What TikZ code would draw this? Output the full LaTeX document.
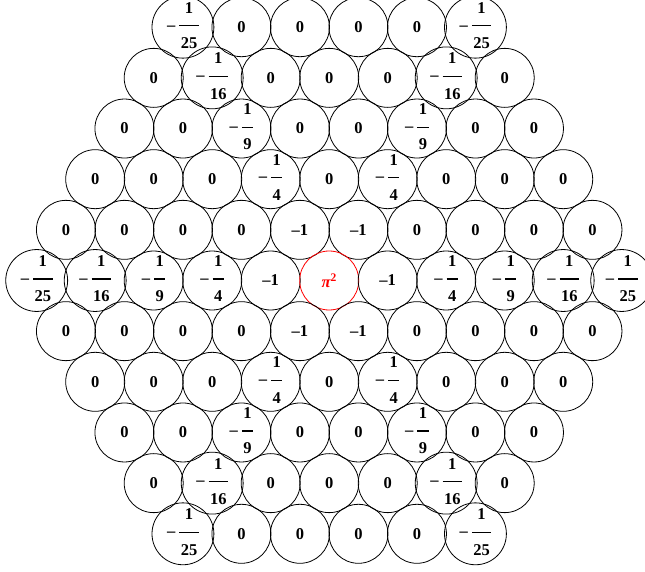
\documentclass[tikz,border=0pt]{standalone}
\usepackage{fontspec}
\setmainfont{Liberation Serif}
\setlength{\arrayrulewidth}{1.2pt}
% minus sign and a stacked fraction 1/#1
\newcommand{\negfrac}[1]{\raisebox{1.5pt}{--}\hspace{4pt}\begin{tabular}{@{\hspace{1.5pt}}c@{\hspace{1.5pt}}}\rule[-12pt]{0pt}{0pt}1\\\hline\rule{0pt}{22pt}#1\end{tabular}}

\begin{document}
\begin{tikzpicture}[x=1pt, y=1pt, every node/.style={font=\fontsize{16.5}{18}\selectfont\bfseries},
  cell/.style={circle, draw, line width=0.8pt, minimum size=59pt, inner sep=0pt},
  centre/.style={cell, draw=red, text=red}]
\useasboundingbox (0,0) rectangle (645,571);
\foreach \row in {0,...,10}{
  \pgfmathtruncatemacro{\k}{abs(\row-5)}
  \pgfmathtruncatemacro{\n}{10-\k}
  \foreach \i in {0,...,\n}{
    \pgfmathsetmacro{\x}{36.7+\k*29.25+\i*58.5}
    \pgfmathsetmacro{\y}{571-(27.2+\row*50.66)}
    % d: -1 empty cell, 0 centre, else distance
    \ifnum\k=0
      \pgfmathtruncatemacro{\d}{abs(\i-5)}
    \else
      \pgfmathtruncatemacro{\d}{(\i==5-\k || \i==5) ? \k : -1}
    \fi
    \ifnum\d<0
      \node[cell] (c\row-\i) at (\x,\y) {0};
    \else\ifnum\d=0
      \node[centre] (c\row-\i) at (\x,\y) {{\itshape π}\textsuperscript{2}};
    \else\ifnum\d=1
      \node[cell] (c\row-\i) at (\x,\y) {--1};
    \else
      \pgfmathtruncatemacro{\sq}{\d*\d}
      \node[cell] (c\row-\i) at (\x,\y) {\negfrac{\sq}};
    \fi\fi\fi
  }
}
\end{tikzpicture}
\end{document}
